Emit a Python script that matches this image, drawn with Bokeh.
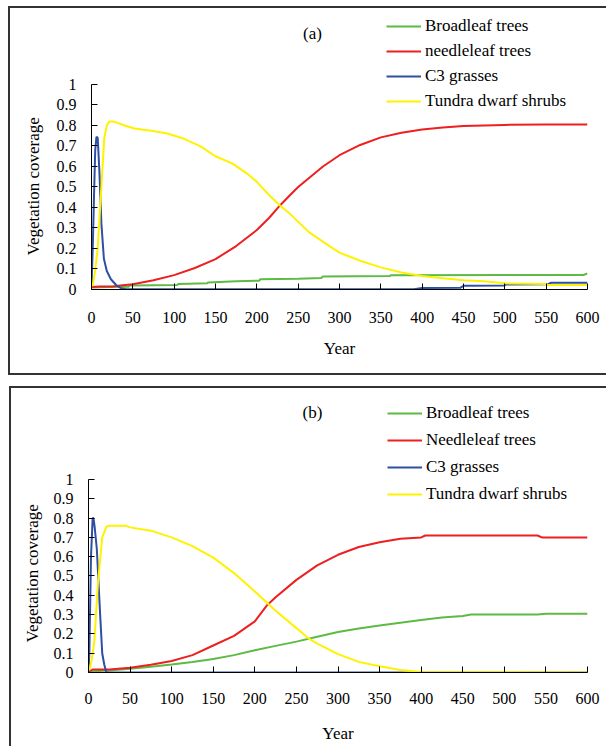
from bokeh.plotting import figure
from bokeh.models import Legend, LegendItem, Label, FixedTicker, Range1d, Spacer, Title
from bokeh.layouts import column, row
from bokeh.embed import file_html
from bokeh.resources import INLINE

FONT = "'Liberation Serif', 'Times New Roman', serif"

x_ticks = [0, 50, 100, 150, 200, 250, 300, 350, 400, 450, 500, 550, 600]
y_ticks = [0, 0.1, 0.2, 0.3, 0.4, 0.5, 0.6, 0.7, 0.8, 0.9, 1]
y_tick_labels = ["0", "0.1", "0.2", "0.3", "0.4", "0.5", "0.6", "0.7", "0.8", "0.9", "1"]
x_title = "Year"
y_title = "Vegetation coverage"

# ---------------- panel (a) ----------------
a_labels = ["Broadleaf trees", "needleleaf trees", "C3 grasses", "Tundra dwarf shrubs"]

a_broad_x = [0, 20, 45, 46, 104, 105, 140, 141, 175, 203, 204, 250, 278, 280, 361, 362, 595, 600]
a_broad_y = [0.01, 0.012, 0.014, 0.019, 0.022, 0.027, 0.03, 0.034, 0.04, 0.043, 0.05, 0.053, 0.056, 0.064, 0.066, 0.07, 0.071, 0.078]

a_needle_x = [0, 10, 25, 35, 50, 75, 100, 125, 150, 175, 200, 215, 228, 240, 250, 265, 280, 300, 325, 350, 375, 400, 425, 450, 500, 550, 600]
a_needle_y = [0.012, 0.015, 0.015, 0.02, 0.026, 0.045, 0.07, 0.105, 0.148, 0.212, 0.29, 0.35, 0.41, 0.46, 0.5, 0.55, 0.6, 0.655, 0.705, 0.742, 0.765, 0.78, 0.79, 0.798, 0.803, 0.805, 0.805]

a_c3_x = [0, 1.5, 3, 4.5, 6, 7.5, 9.5, 12, 15, 18.5, 23.5, 29.5, 35.5, 42, 390, 400, 446, 450, 500, 501, 552, 556, 600]
a_c3_y = [0.01, 0.2, 0.45, 0.68, 0.745, 0.74, 0.58, 0.32, 0.15, 0.09, 0.05, 0.023, 0.006, 0.001, 0.001, 0.007, 0.008, 0.018, 0.02, 0.024, 0.025, 0.033, 0.033]

a_tundra_x = [0, 1.5, 4, 7.5, 11.5, 15.5, 18.5, 21.5, 26, 30, 40, 52, 72, 92, 112, 132, 150, 170, 190, 200, 215, 228, 240, 250, 263, 275, 287, 300, 325, 350, 375, 400, 425, 450, 475, 500, 550, 552, 600]
a_tundra_y = [0.02, 0.02, 0.08, 0.2, 0.47, 0.74, 0.8, 0.82, 0.82, 0.815, 0.8, 0.785, 0.774, 0.761, 0.735, 0.698, 0.65, 0.615, 0.56, 0.525, 0.46, 0.41, 0.37, 0.33, 0.28, 0.247, 0.214, 0.18, 0.14, 0.108, 0.083, 0.066, 0.055, 0.045, 0.04, 0.03, 0.027, 0.022, 0.022]

# ---------------- panel (b) ----------------
b_labels = ["Broadleaf trees", "Needleleaf trees", "C3 grasses", "Tundra dwarf shrubs"]

b_broad_x = [0, 25, 50, 75, 100, 125, 150, 175, 200, 225, 250, 275, 300, 325, 350, 375, 400, 425, 450, 460, 540, 550, 600]
b_broad_y = [0.005, 0.01, 0.02, 0.03, 0.042, 0.055, 0.07, 0.09, 0.115, 0.138, 0.16, 0.185, 0.21, 0.228, 0.244, 0.258, 0.272, 0.285, 0.293, 0.3, 0.3, 0.305, 0.305]

b_needle_x = [0, 5, 25, 50, 75, 100, 125, 150, 175, 200, 215, 225, 250, 275, 300, 325, 350, 375, 400, 405, 540, 545, 600]
b_needle_y = [0.005, 0.015, 0.015, 0.025, 0.04, 0.06, 0.09, 0.14, 0.19, 0.265, 0.35, 0.39, 0.48, 0.555, 0.61, 0.65, 0.675, 0.693, 0.7, 0.71, 0.71, 0.7, 0.7]

b_c3_x = [0, 1, 3, 5, 6, 7.5, 10, 12, 14, 16.5, 19, 21.5, 600]
b_c3_y = [0, 0.1, 0.6, 0.8, 0.8, 0.75, 0.64, 0.47, 0.3, 0.1, 0.04, 0, 0]

b_tundra_x = [0, 1.5, 4, 7, 11.5, 16.5, 21.5, 25, 45, 50, 75, 100, 125, 150, 175, 200, 215, 225, 250, 265, 275, 300, 325, 350, 375, 400, 600]
b_tundra_y = [0.01, 0.02, 0.07, 0.16, 0.47, 0.7, 0.755, 0.76, 0.76, 0.752, 0.735, 0.7, 0.655, 0.595, 0.515, 0.42, 0.36, 0.32, 0.23, 0.175, 0.15, 0.095, 0.055, 0.032, 0.013, 0.003, 0.0]

colors = ["#5dba45", "#ee1f1f", "#2e4fa3", "#fff200"]
LINE = {"background-color": "#333333"}


def make_panel(tag, labels, series, width, height, mb_left, mb_right, mb_bottom, y_end,
               leg_vx, leg_vy, leg_h, tag_x, tag_y, ytitle_offset, ytitle_standoff,
               ytick_standoff, xtick_standoff, xlab_standoff):
    p = figure(width=width, height=height, output_backend="svg", toolbar_location=None,
               x_range=Range1d(x_ticks[0], x_ticks[-1]), y_range=Range1d(0, y_end),
               min_border_left=mb_left, min_border_right=mb_right,
               min_border_top=0, min_border_bottom=mb_bottom)
    p.outline_line_color = None
    p.grid.visible = False
    p.background_fill_color = "white"
    p.border_fill_color = "white"

    renderers = []
    for (xs, ys), c in zip(series, colors):
        r = p.line(xs, ys, line_color=c, line_width=2)
        renderers.append(r)

    p.xaxis.ticker = FixedTicker(ticks=x_ticks)
    p.yaxis.ticker = FixedTicker(ticks=y_ticks)
    p.yaxis.bounds = (y_ticks[0], y_ticks[-1])
    p.yaxis.major_label_overrides = dict(zip(y_ticks, y_tick_labels))
    p.xaxis.axis_label = x_title
    for ax in (p.xaxis, p.yaxis):
        ax.axis_line_color = "black"
        ax.axis_line_width = 1
        ax.major_tick_line_color = "black"
        ax.major_tick_in = 6
        ax.major_tick_out = 0
        ax.minor_tick_line_color = None
        ax.major_label_text_font = FONT
        ax.major_label_text_font_size = "16px"
        ax.major_label_text_color = "black"
        ax.axis_label_text_font = FONT
        ax.axis_label_text_font_size = "17px"
        ax.axis_label_text_font_style = "normal"
        ax.axis_label_text_color = "black"
    p.yaxis.major_label_standoff = ytick_standoff
    p.xaxis.major_label_standoff = xtick_standoff
    p.xaxis.axis_label_standoff = xlab_standoff

    # y-axis title, centred on the 0..1 span of the axis
    p.add_layout(Title(text=y_title, align="left", offset=ytitle_offset,
                       standoff=ytitle_standoff, text_font=FONT, text_font_size="17px",
                       text_font_style="normal", text_color="black"), "left")

    items = [LegendItem(label=l, renderers=[r]) for l, r in zip(labels, renderers)]
    legend = Legend(items=items, location=(leg_vx, leg_vy), padding=0, margin=0,
                    spacing=5, glyph_height=leg_h, label_height=leg_h, glyph_width=35,
                    label_standoff=4, border_line_color=None, background_fill_alpha=0,
                    label_text_font=FONT, label_text_font_size="17px",
                    label_text_color="black")
    p.add_layout(legend, "center")

    p.add_layout(Label(x=tag_x, y=tag_y, x_units="screen", y_units="screen", text=tag,
                       text_align="center", text_baseline="middle",
                       text_font=FONT, text_font_size="17px", text_color="black"))
    return p


# panel (a): figure occupies page x 10..606, y 8..373
pa = make_panel("(a)", a_labels,
                [(a_broad_x, a_broad_y), (a_needle_x, a_needle_y), (a_c3_x, a_c3_y), (a_tundra_x, a_tundra_y)],
                width=596, height=365, mb_left=81, mb_right=19, mb_bottom=84, y_end=1.3707,
                leg_vx=295, leg_vy=178, leg_h=20, tag_x=221, tag_y=256,
                ytitle_offset=34, ytitle_standoff=22,
                ytick_standoff=15, xtick_standoff=22, xlab_standoff=13)

# panel (b): figure occupies page x 11..606, y 388..746
pb = make_panel("(b)", b_labels,
                [(b_broad_x, b_broad_y), (b_needle_x, b_needle_y), (b_c3_x, b_c3_y), (b_tundra_x, b_tundra_y)],
                width=595, height=358, mb_left=77, mb_right=19, mb_bottom=74, y_end=1.4715,
                leg_vx=299, leg_vy=167, leg_h=22, tag_x=224, tag_y=260,
                ytitle_offset=30, ytitle_standoff=17,
                ytick_standoff=15, xtick_standoff=20, xlab_standoff=17)

layout = column(
    Spacer(width=606, height=6),
    row(Spacer(width=8, height=2), Spacer(width=598, height=2, styles=LINE), spacing=0),
    row(Spacer(width=8, height=365), Spacer(width=2, height=365, styles=LINE), pa, spacing=0),
    row(Spacer(width=8, height=2), Spacer(width=598, height=2, styles=LINE), spacing=0),
    Spacer(width=606, height=11),
    row(Spacer(width=9, height=2), Spacer(width=597, height=2, styles=LINE), spacing=0),
    row(Spacer(width=9, height=358), Spacer(width=2, height=358, styles=LINE), pb, spacing=0),
    spacing=0,
)
open("out.html", "w").write(file_html(layout, INLINE))
